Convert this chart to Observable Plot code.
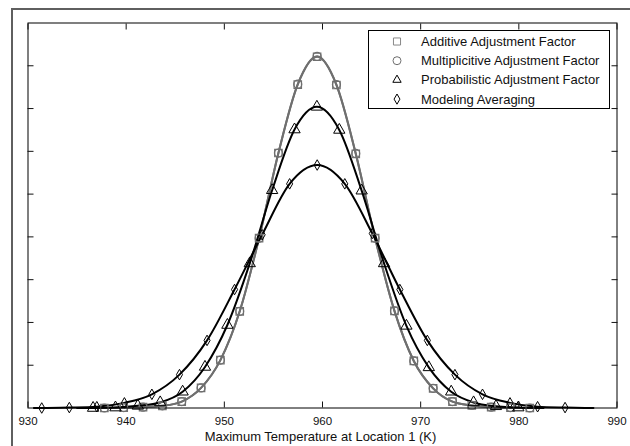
<!DOCTYPE html>
<html>
<head>
<meta charset="utf-8">
<script src="https://cdn.jsdelivr.net/npm/d3@7"></script>
<script src="https://cdn.jsdelivr.net/npm/@observablehq/plot@0.6"></script>
<style>
  body { margin: 0; background: #fff; }
  #chart { position: relative; width: 630px; height: 446px; overflow: hidden; }
</style>
</head>
<body>
<div id="chart"></div>
<script>
// ---- data ----
const xTicks = [930, 940, 950, 960, 970, 980, 990];
const yTicks = [0.01, 0.02, 0.03, 0.04, 0.05, 0.06, 0.07, 0.08];
const xTitle = "Maximum Temperature at Location 1 (K)";

const legendLabels = [
  "Additive Adjustment Factor",
  "Multiplicitive Adjustment Factor",
  "Probabilistic Adjustment Factor",
  "Modeling Averaging"
];

// Additive adjustment factor (markers)
const additiveX = [937.78, 939.75, 941.72, 943.69, 945.66, 947.63, 949.60, 951.57, 953.54, 955.51, 957.48, 959.45,
                   961.42, 963.39, 965.36, 967.33, 969.30, 971.27, 973.24, 975.21, 977.18, 979.15, 981.12];
const additiveY = [0.0000, 0.0001, 0.0002, 0.0005, 0.0015, 0.0047, 0.0112, 0.0226, 0.0397, 0.0596, 0.0756, 0.0821,
                   0.0755, 0.0594, 0.0397, 0.0227, 0.0110, 0.0046, 0.0015, 0.0006, 0.0002, 0.0001, 0.0000];
const additiveEndX = [936.0, 982.5];
const additiveEndY = [0, 0];

// Multiplicitive adjustment factor (markers)
const multiplicativeX = [937.78, 939.75, 941.72, 943.69, 945.66, 947.63, 949.60, 951.57, 953.54, 955.51, 957.48, 959.45,
                         961.42, 963.39, 965.36, 967.33, 969.30, 971.27, 973.24, 975.21, 977.18, 979.15, 981.12];
const multiplicativeY = [0.0000, 0.0001, 0.0002, 0.0005, 0.0015, 0.0047, 0.0112, 0.0226, 0.0397, 0.0596, 0.0757, 0.0822,
                         0.0756, 0.0595, 0.0397, 0.0227, 0.0110, 0.0046, 0.0015, 0.0006, 0.0002, 0.0001, 0.0000];
const multiplicativeEndX = [936.0, 982.5];
const multiplicativeEndY = [0, 0];

// Probabilistic adjustment factor (markers)
const probabilisticX = [936.63, 938.91, 941.19, 943.47, 945.75, 948.03, 950.31, 952.59, 954.87, 957.15, 959.43,
                        961.71, 963.99, 966.27, 968.55, 970.83, 973.11, 975.39, 977.67, 979.95];
const probabilisticY = [0.0000, 0.0001, 0.0005, 0.0013, 0.0038, 0.0096, 0.0194, 0.0338, 0.0509, 0.0651, 0.0704,
                        0.0650, 0.0508, 0.0338, 0.0192, 0.0095, 0.0038, 0.0013, 0.0004, 0.0001];
const probabilisticEndX = [935.0, 982.5];
const probabilisticEndY = [0, 0];

// Modeling averaging (markers)
const modelingX = [931.40, 934.21, 937.01, 939.82, 942.62, 945.43, 948.24, 951.04, 953.85, 956.65, 959.46,
                   962.27, 965.07, 967.88, 970.68, 973.49, 976.30, 979.10, 981.91, 984.71];
const modelingY = [0.0000, 0.0001, 0.0003, 0.0012, 0.0032, 0.0078, 0.0158, 0.0277, 0.0405, 0.0524, 0.0568,
                   0.0524, 0.0408, 0.0277, 0.0158, 0.0078, 0.0032, 0.0012, 0.0003, 0.0001];
const modelingEndX = [930.6, 987.6];
const modelingEndY = [0, 0];

// ---- build tables ----
const rows = (xs, ys) => xs.map((x, i) => ({x, y: ys[i]}));
const withEnds = (pts, ex, ey) => [{x: ex[0], y: ey[0]}, ...pts, {x: ex[1], y: ey[1]}];

const add = rows(additiveX, additiveY);
const mul = rows(multiplicativeX, multiplicativeY);
const prob = rows(probabilisticX, probabilisticY);
const model = rows(modelingX, modelingY);

const GRAY = "#6f6f6f";
const BLACK = "#000";
const FONT = "'Liberation Sans', Arial, sans-serif";

const plot = Plot.plot({
  width: 630,
  height: 446,
  marginLeft: 27.5,
  marginRight: 13.5,
  marginTop: 22.5,
  marginBottom: 38.5,
  style: {fontSize: "12px", fontFamily: FONT, color: "#111", background: "white"},
  x: {domain: [930, 990]},
  y: {domain: [0, 0.09]},
  marks: [
    Plot.line(withEnds(add, additiveEndX, additiveEndY), {x: "x", y: "y", stroke: GRAY, strokeWidth: 2, curve: "monotone-x"}),
    Plot.line(withEnds(mul, multiplicativeEndX, multiplicativeEndY), {x: "x", y: "y", stroke: GRAY, strokeWidth: 2, curve: "monotone-x"}),
    Plot.line(withEnds(prob, probabilisticEndX, probabilisticEndY), {x: "x", y: "y", stroke: BLACK, strokeWidth: 2, curve: "monotone-x"}),
    Plot.line(withEnds(model, modelingEndX, modelingEndY), {x: "x", y: "y", stroke: BLACK, strokeWidth: 2, curve: "monotone-x"}),
    Plot.dot(add, {x: "x", y: "y", symbol: "square", r: 4.2, stroke: GRAY, fill: "none", strokeWidth: 1.2}),
    Plot.dot(mul, {x: "x", y: "y", symbol: "circle", r: 4, stroke: GRAY, fill: "none", strokeWidth: 1.2}),
    Plot.dot(prob, {x: "x", y: "y", symbol: "triangle", r: 4.2, stroke: BLACK, fill: "none", strokeWidth: 1}),
    Plot.dot(model, {x: "x", y: "y", symbol: "diamond", r: 3.2, stroke: BLACK, fill: "none", strokeWidth: 1}),
    Plot.frame({stroke: "black", strokeWidth: 1}),
    // inward tick marks (MATLAB style) on all four sides
    Plot.axisX(xTicks, {anchor: "bottom", tickSize: 6, dy: -6, tickFormat: () => "", label: null}),
    Plot.axisX(xTicks, {anchor: "top", tickSize: 6, dy: 6, tickFormat: () => "", label: null}),
    Plot.axisY(yTicks, {anchor: "left", tickSize: 6, dx: 6, tickFormat: () => "", label: null}),
    Plot.axisY(yTicks, {anchor: "right", tickSize: 6, dx: -6, tickFormat: () => "", label: null}),
    // tick labels
    Plot.axisX(xTicks, {anchor: "bottom", tickSize: 0, tickPadding: 9, fontSize: 11.5, tickFormat: d => String(d), label: null, fill: "#111"}),
    Plot.text([xTitle], {text: d => d, frameAnchor: "bottom", dy: 29, dx: -2, lineAnchor: "middle", fontSize: 13, fill: "#111"})
  ]
});

document.getElementById("chart").appendChild(plot);

// ---- legend and outer figure border ----
const svg = d3.select(plot);
const legend = svg.append("g").attr("text-anchor", "start");
legend.append("rect")
  .attr("x", 368.5).attr("y", 30.5).attr("width", 241).attr("height", 78)
  .attr("fill", "white").attr("stroke", "black").attr("stroke-width", 1);

const legendSymbols = [d3.symbolSquare, d3.symbolCircle, d3.symbolTriangle, d3.symbolDiamond];
const legendSizes = [50, 50, 30, 30];
const legendColors = ["#888", GRAY, BLACK, BLACK];
legendLabels.forEach((label, i) => {
  const cy = 41.5 + i * 19.2;
  legend.append("path")
    .attr("d", d3.symbol(legendSymbols[i], legendSizes[i])())
    .attr("transform", `translate(397,${cy})`)
    .attr("fill", "none").attr("stroke", legendColors[i]).attr("stroke-width", 1);
  legend.append("text")
    .attr("x", 421).attr("y", cy).attr("dy", "0.35em")
    .attr("text-anchor", "start")
    .attr("font-size", 13)
    .attr("font-family", FONT)
    .attr("fill", "#111")
    .text(label);
});

// outer figure border (left and top edges visible)
svg.append("path")
  .attr("d", "M12,446V9H630")
  .attr("fill", "none")
  .attr("stroke", "#5f5f5f")
  .attr("stroke-width", 2);
</script>
</body>
</html>
